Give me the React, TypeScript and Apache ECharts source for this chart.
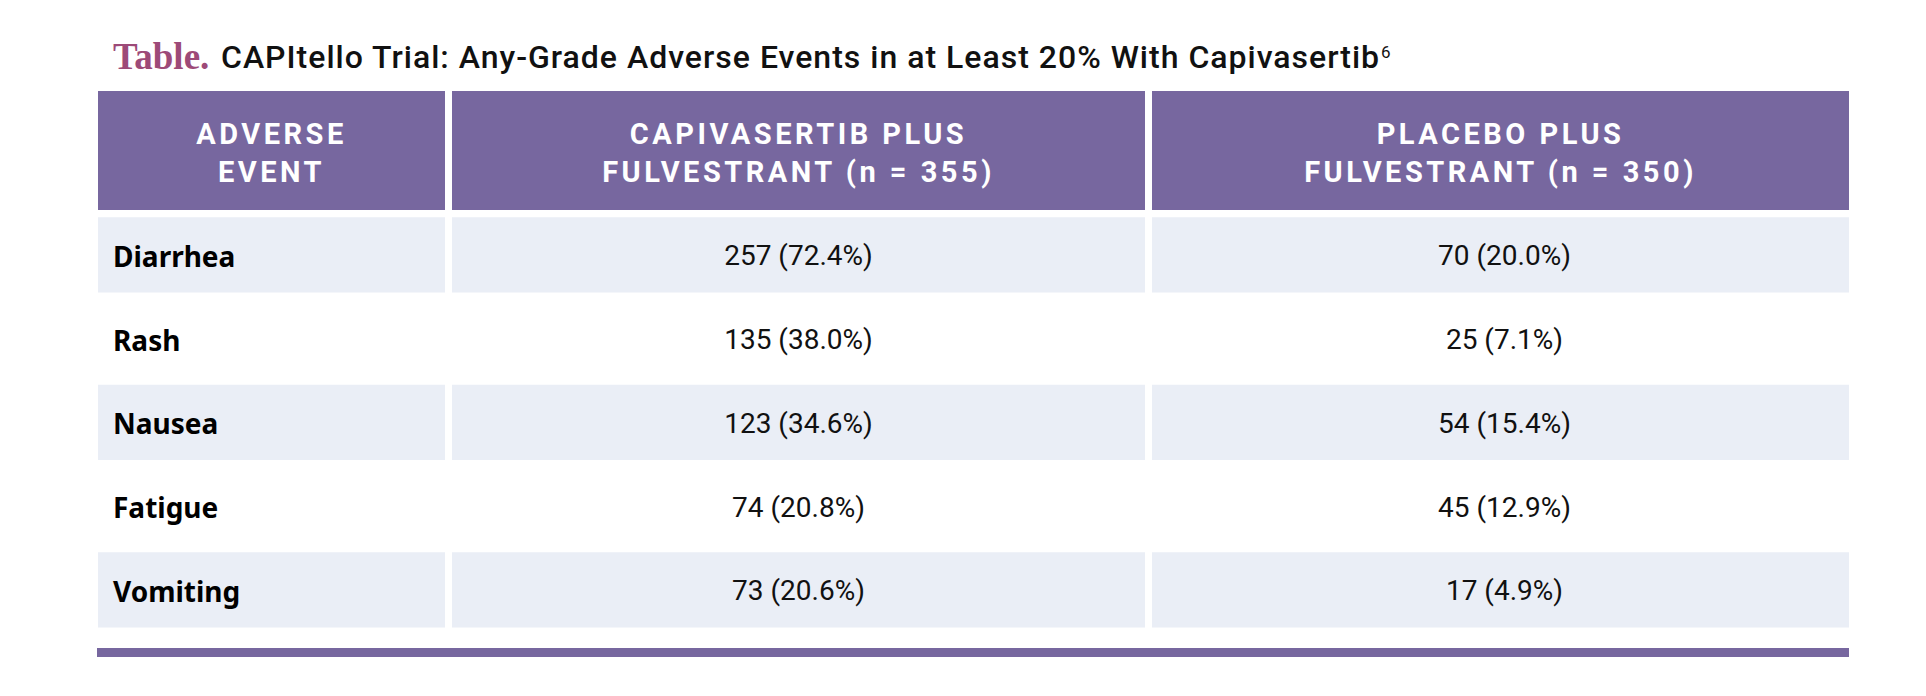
import React, { useEffect, useRef } from 'react';
import * as echarts from 'echarts';

const events = ['Diarrhea', 'Rash', 'Nausea', 'Fatigue', 'Vomiting'];
const capiCounts = [257, 135, 123, 74, 73];
const capiPct = [72.4, 38.0, 34.6, 20.8, 20.6];
const placeboCounts = [70, 25, 54, 45, 17];
const placeboPct = [20.0, 7.1, 15.4, 12.9, 4.9];
const headers = [
  'ADVERSE\nEVENT',
  'CAPIVASERTIB PLUS\nFULVESTRANT (n = 355)',
  'PLACEBO PLUS\nFULVESTRANT (n = 350)',
];
const titleLead = 'Table.';
const titleText = 'CAPItello Trial: Any-Grade Adverse Events in at Least 20% With Capivasertib';
const titleRef = '6';

const PURPLE = '#77679f';
const BAND = '#eaeef6';
const X0 = 98;
const COLW = [347, 693, 697];
const GAP = 7;
const colX = [X0, X0 + COLW[0] + GAP, X0 + COLW[0] + GAP + COLW[1] + GAP];
const TOTAL_W = colX[2] + COLW[2] - X0;

const fmt = (n: number, p: number) => `${n} (${p.toFixed(1)}%)`;

export default function App() {
  const ref = useRef<HTMLDivElement>(null);
  useEffect(() => {
    document.body.style.margin = '0';
    const chart = echarts.init(ref.current!, null, { renderer: 'svg' });
    const headerGraphics: any[] = [];
    headers.forEach((h, k) => {
      headerGraphics.push({
        type: 'rect',
        shape: { x: colX[k], y: 91, width: COLW[k], height: 119 },
        style: { fill: PURPLE },
      });
      headerGraphics.push({
        type: 'text',
        x: colX[k] + COLW[k] / 2,
        y: 153,
        style: {
          text: h,
          fill: '#ffffff',
          fontSize: 29,
          fontWeight: 'bold',
          fontFamily: 'Roboto, Lato',
          lineHeight: 38,
          align: 'center',
          verticalAlign: 'middle',
        },
      });
    });
    chart.setOption({
      animation: false,
      grid: { left: X0, width: TOTAL_W, top: 213, height: 418.75, containLabel: false },
      xAxis: { type: 'value', min: 0, max: 1, show: false },
      yAxis: { type: 'category', data: events, inverse: true, show: false },
      graphic: [
        {
          type: 'text',
          x: 113,
          y: 56,
          style: {
            text: titleLead,
            fill: '#9d4a78',
            fontSize: 37,
            fontWeight: 'bold',
            fontFamily: '"Liberation Serif", serif',
            align: 'left',
            verticalAlign: 'middle',
          },
        },
        {
          type: 'text',
          x: 221,
          y: 57,
          style: {
            text: titleText,
            fill: '#111111',
            fontSize: 32,
            fontWeight: 500,
            fontFamily: 'Roboto, Inter',
            align: 'left',
            verticalAlign: 'middle',
          },
        },
        {
          type: 'text',
          x: 1381,
          y: 52,
          style: {
            text: titleRef,
            fill: '#111111',
            fontSize: 17,
            fontFamily: 'Roboto',
            align: 'left',
            verticalAlign: 'middle',
          },
        },
        ...headerGraphics,
        {
          type: 'rect',
          shape: { x: X0 - 1, y: 648, width: TOTAL_W + 1, height: 9 },
          style: { fill: PURPLE },
        },
      ],
      series: [
        {
          type: 'custom',
          data: events.map((e, i) => [0, i]),
          encode: { x: 0, y: 1 },
          renderItem: (params: any, api: any) => {
            const i = api.value(1);
            const c = api.coord([0, i]);
            const band = api.size([0, 1])[1];
            const h = band - 8.5;
            const top = c[1] - h / 2;
            const children: any[] = [];
            if (i % 2 === 0) {
              colX.forEach((x, k) =>
                children.push({
                  type: 'rect',
                  shape: { x, y: top, width: COLW[k], height: h },
                  style: { fill: BAND },
                })
              );
            }
            children.push({
              type: 'text',
              x: colX[0] + 15,
              y: c[1] + 1,
              style: {
                text: events[i],
                fill: '#000000',
                fontSize: 28,
                fontWeight: 'bold',
                fontFamily: '"Noto Sans"',
                align: 'left',
                verticalAlign: 'middle',
              },
            });
            children.push({
              type: 'text',
              x: colX[1] + COLW[1] / 2,
              y: c[1] + 1,
              style: {
                text: fmt(capiCounts[i], capiPct[i]),
                fill: '#111111',
                fontSize: 28,
                fontFamily: 'Roboto',
                align: 'center',
                verticalAlign: 'middle',
              },
            });
            children.push({
              type: 'text',
              x: colX[2] + COLW[2] / 2 + 4,
              y: c[1] + 1,
              style: {
                text: fmt(placeboCounts[i], placeboPct[i]),
                fill: '#111111',
                fontSize: 28,
                fontFamily: 'Roboto',
                align: 'center',
                verticalAlign: 'middle',
              },
            });
            return { type: 'group', children };
          },
        },
      ],
    });
    return () => chart.dispose();
  }, []);
  return (
    <>
      <style>
        {'text[style*="Roboto, Lato"]{letter-spacing:3.5px}text[style*="Roboto, Inter"]{letter-spacing:1px}'}
      </style>
      <div ref={ref} style={{ width: 1926, height: 696 }} />
    </>
  );
}
